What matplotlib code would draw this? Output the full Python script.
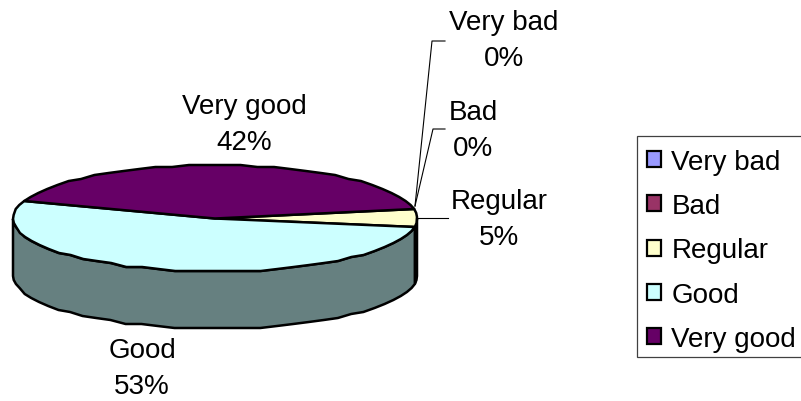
from __future__ import annotations

import numpy as np
import matplotlib

matplotlib.use("Agg")
import matplotlib.pyplot as plt
from matplotlib.patches import Patch, Rectangle


# Survey answers, in pie order
CATEGORIES = ["Very bad", "Bad", "Regular", "Good", "Very good"]
SHARES = [0, 0, 5, 53, 42]
COLORS = ["#9999FF", "#993366", "#FFFFCC", "#CCFFFF", "#660066"]
SIDE_COLORS = ["#4D4D80", "#4D1A33", "#808066", "#668080", "#330033"]

# Where each data label sits, with its leader line if it has one
LABEL_POS = [(504, 41.5), (473, 131), (499, 220), (142, 369.5), (244, 124.5)]
LEADERS = [
    [(415, 207), (432, 42), (445, 42)],
    [(415, 207), (433, 130), (445, 130)],
    [(418, 219), (448, 219)],
]

CENTER_X, CENTER_Y = 215, 219.5
RADIUS_X, RADIUS_Y = 202, 53
DEPTH = 57
START_ANGLE = 9.6
ANGLE_STEP = 5
RIM_GRID = 2  # rim is stepped vertically on this many pixels
FONT_SIZE = 20


def ellipse_points(start: float, end: float) -> tuple[np.ndarray, np.ndarray]:
    """Points on the pie rim, going clockwise from start to end (degrees)."""
    count = max(int(abs(end - start) / ANGLE_STEP) + 1, 1)
    angles = np.radians(np.linspace(start, end, count + 1))
    x = CENTER_X + RADIUS_X * np.cos(angles)
    y = CENTER_Y - RADIUS_Y * np.sin(angles)
    return x, np.round(y / RIM_GRID) * RIM_GRID


def draw_side(ax, start: float, end: float, color: str) -> None:
    # only the front half of the rim has a visible wall
    low, high = max(start, -180), min(end, 0)
    if low >= high:
        return
    x, y = ellipse_points(high, low)
    ax.fill(
        np.r_[x, x[::-1]],
        np.r_[y, y[::-1] + DEPTH],
        facecolor=color,
        edgecolor="black",
        linewidth=1.8,
        zorder=2,
    )


def draw_pie(ax) -> None:
    ends = START_ANGLE - np.cumsum(np.array(SHARES) * 3.6)
    starts = np.r_[START_ANGLE, ends[:-1]]

    for start, end, color in zip(starts, ends, SIDE_COLORS):
        if start > end:
            draw_side(ax, end, start, color)

    for start, end, color in zip(starts, ends, COLORS):
        if start > end:
            x, y = ellipse_points(start, end)
            ax.fill(
                np.r_[CENTER_X, x],
                np.r_[CENTER_Y, y],
                facecolor=color,
                edgecolor="black",
                linewidth=1.8,
                joinstyle="round",
                zorder=3,
            )


def draw_labels(ax) -> None:
    for name, share, (x, y) in zip(CATEGORIES, SHARES, LABEL_POS):
        ax.text(x, y, f"{name}\n{share}%", ha="center", va="center", fontsize=FONT_SIZE, linespacing=1.5)
    for points in LEADERS:
        xs, ys = zip(*points)
        ax.plot(xs, ys, color="black", linewidth=0.8, zorder=4)


def draw_legend(ax) -> None:
    # box drawn by hand so the frame has the plain square corners
    ax.add_patch(Rectangle((637, 137), 170, 221, facecolor="white", edgecolor="#404040", linewidth=0.9))
    handles = [Patch(facecolor=c, edgecolor="black", linewidth=1.6) for c in COLORS]
    ax.legend(
        handles,
        CATEGORIES,
        loc="upper left",
        bbox_to_anchor=(634.2 / 801, 1 - 137 / 402),
        frameon=False,
        fontsize=FONT_SIZE,
        handlelength=0.52,
        handleheight=0.52,
        handletextpad=0.36,
        labelspacing=0.66,
        borderaxespad=0,
        borderpad=0.46,
    )


def main() -> None:
    plt.rcParams["font.family"] = ["Liberation Sans", "DejaVu Sans"]

    fig = plt.figure(figsize=(8.01, 4.02), dpi=100)
    ax = fig.add_axes([0, 0, 1, 1])
    ax.set_xlim(0, 801)
    ax.set_ylim(402, 0)
    ax.axis("off")

    draw_pie(ax)
    draw_labels(ax)
    draw_legend(ax)

    fig.savefig("out.png", dpi=100)
    plt.close(fig)


if __name__ == "__main__":
    main()
